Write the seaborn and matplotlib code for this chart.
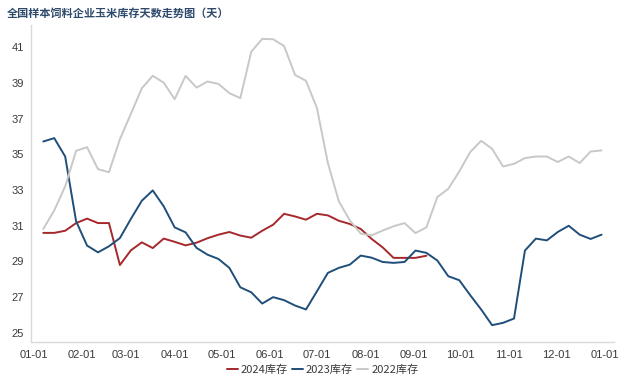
import matplotlib

matplotlib.use("Agg")
import matplotlib.pyplot as plt
import matplotlib.dates as mdates
import numpy as np
import pandas as pd
import seaborn as sns

# weekly corn inventory days of sample feed enterprises
stock_2024 = [30.6, 30.6, 30.72, 31.15, 31.4, 31.15, 31.15, 28.8, 29.62, 30.07,
              29.75, 30.28, 30.1, 29.9, 30.05, 30.3, 30.5, 30.65, 30.45, 30.33,
              30.72, 31.06, 31.67, 31.52, 31.34, 31.67, 31.58, 31.28, 31.1, 30.82,
              30.26, 29.79, 29.2, 29.2, 29.2, 29.32]
stock_2023 = [35.72, 35.91, 34.88, 31.25, 29.89, 29.51, 29.85, 30.31, 31.38, 32.4,
              32.98, 32.09, 30.91, 30.63, 29.76, 29.38, 29.14, 28.64, 27.55, 27.27,
              26.64, 27.0, 26.83, 26.53, 26.31, 27.33, 28.36, 28.64, 28.82, 29.33,
              29.21, 28.97, 28.92, 28.97, 29.61, 29.48, 29.05, 28.17, 27.95, 27.11,
              26.31, 25.43, 25.56, 25.8, 29.61, 30.28, 30.18, 30.65, 31.0, 30.5,
              30.26, 30.5]
stock_2022 = [30.82, 31.86, 33.2, 35.2, 35.4, 34.17, 34.0, 35.85, 37.27, 38.7,
              39.4, 39.02, 38.09, 39.4, 38.74, 39.08, 38.95, 38.43, 38.15, 40.75,
              41.47, 41.45, 41.07, 39.45, 39.12, 37.59, 34.51, 32.37, 31.3, 30.56,
              30.46, 30.73, 30.97, 31.15, 30.59, 30.91, 32.61, 33.07, 34.04, 35.13,
              35.76, 35.31, 34.32, 34.47, 34.79, 34.88, 34.88, 34.57, 34.88, 34.51,
              35.16, 35.22]
series_names = ["2024库存", "2023库存", "2022库存"]
colors = ["#A5282C", "#1F4E79", "#C8C8C8"]

# common dummy year so all seasons share one month-day axis
weeks = pd.date_range("2023-01-07", periods=52, freq="7D")

frames = []
for name, vals in zip(series_names, [stock_2024, stock_2023, stock_2022]):
    frames.append(pd.DataFrame({"date": weeks[:len(vals)], "value": vals, "series": name}))
df = pd.concat(frames, ignore_index=True)

sns.set_theme(style="white")
plt.rcParams["font.family"] = ["Liberation Sans", "Noto Sans CJK SC", "DejaVu Sans"]

fig = plt.figure(figsize=(6.41, 3.84), dpi=100)
ax = fig.add_axes([0.048, 0.110, 0.910, 0.825])

sns.lineplot(data=df, x="date", y="value", hue="series", hue_order=series_names,
             palette=colors, linewidth=1.4, ax=ax, sort=False)

ax.set_xlim(pd.Timestamp("2022-12-30"), pd.Timestamp("2024-01-07"))
ax.set_ylim(24.5, 42.25)
ax.set_yticks(np.arange(25, 42, 2))
ax.xaxis.set_major_locator(mdates.MonthLocator(bymonthday=1))
ax.xaxis.set_major_formatter(mdates.DateFormatter("%m-%d"))
ax.set_xlabel("")
ax.set_ylabel("")

for s in ["top", "right"]:
    ax.spines[s].set_visible(False)
for s in ["left", "bottom"]:
    ax.spines[s].set_color("#D9D9D9")
    ax.spines[s].set_linewidth(1.0)
ax.tick_params(axis="both", length=3, width=0.8, color="#D9D9D9",
               labelsize=8, labelcolor="#3A3A3A", pad=2)
ax.tick_params(axis="x", pad=3)

fig.text(0.011, 0.965, "全国样本饲料企业玉米库存天数走势图（天）", fontsize=8,
         fontweight="bold", color="#2E4A6B", va="center", ha="left",
         family=["Noto Sans CJK SC", "DejaVu Sans"])

leg = ax.legend(loc="upper center", bbox_to_anchor=(0.5, -0.057), ncol=3, frameon=False,
                fontsize=8, handlelength=1.0, handletextpad=0.25, columnspacing=0.4,
                borderaxespad=0)
for t in leg.get_texts():
    t.set_color("#3A3A3A")
    t.set_family(["Noto Sans CJK SC", "DejaVu Sans"])

fig.savefig("out.png", dpi=100)
plt.close(fig)
